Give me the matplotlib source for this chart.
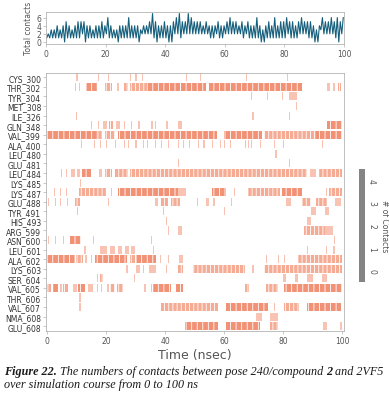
import numpy as np
import matplotlib
matplotlib.use('Agg')
import matplotlib.pyplot as plt
from matplotlib.colors import ListedColormap, Normalize
from matplotlib.cm import ScalarMappable

plt.rcParams.update({
    'font.family': 'DejaVu Sans',
    'font.size': 5.5,
    'axes.linewidth': 0.6,
    'hatch.linewidth': 0.6,
})

# total contacts per ns: envelope (low / high value in each ns)
contacts_high = [2, 3, 3, 4, 3, 4, 5, 4, 3, 4, 5, 5, 5, 4, 4, 3, 4, 4, 5, 4,
                 6, 4, 3, 3, 4, 4, 4, 6, 4, 4, 4, 3, 4, 4, 5, 7, 5, 4, 4, 5,
                 4, 4, 5, 6, 7, 5, 5, 7, 6, 5, 5, 5, 4, 5, 4, 4, 4, 5, 4, 4,
                 5, 6, 5, 5, 4, 5, 4, 5, 4, 4, 6, 4, 3, 4, 5, 4, 6, 4, 5, 5,
                 6, 5, 5, 4, 5, 6, 5, 5, 5, 4, 3, 4, 6, 5, 5, 6, 5, 6, 5, 6]
contacts_low = [1, 1, 1, 1, 1, 1, 0, 1, 1, 1, 1, 1, 2, 0, 1, 1, 1, 1, 1, 1,
                2, 1, 1, 1, 0, 1, 1, 1, 1, 1, 1, 0, 2, 2, 2, 2, 1, 0, 1, 1,
                1, 0, 0, 2, 2, 1, 2, 2, 2, 2, 2, 2, 2, 2, 2, 1, 1, 2, 1, 1,
                2, 2, 2, 2, 2, 2, 1, 2, 1, 1, 1, 1, 0, 0, 1, 1, 1, 1, 1, 1,
                1, 2, 1, 1, 1, 2, 2, 2, 1, 1, 0, 0, 3, 2, 2, 2, 2, 1, 0, 2]

residues = ['CYS_300', 'THR_302', 'TYR_304', 'MET_308', 'ILE_326', 'GLN_348',
            'VAL_399', 'ALA_400', 'LEU_480', 'GLU_481', 'LEU_484', 'LYS_485',
            'LYS_487', 'GLU_488', 'TYR_491', 'HIS_493', 'ARG_599', 'ASN_600',
            'LEU_601', 'ALA_602', 'LYS_603', 'SER_604', 'VAL_605', 'THR_606',
            'VAL_607', 'NMA_608', 'GLU_608']

# contact intervals per residue: (start ns, end ns, density 1..3)
cys_300 = [(10, 10.4, 1), (17.3, 17.7, 1), (20.8, 21.2, 1), (28.2, 28.6, 1),
           (30, 30.4, 1), (32.3, 32.7, 1), (47, 47.4, 1), (51.9, 52.3, 1),
           (67.4, 67.8, 1), (81.3, 81.7, 1)]
thr_302 = [(9.6, 10, 1), (10.9, 11.3, 1), (13.2, 16.8, 3), (19.6, 22, 2),
           (23.9, 24.3, 1), (26, 27.5, 2), (28, 34, 2), (34, 45, 3),
           (45.5, 54, 3), (55, 86.5, 3), (95, 96, 1), (97, 97.5, 1),
           (98.5, 99.6, 2)]
tyr_304 = [(69.2, 69.6, 1), (74.4, 74.8, 1), (79.5, 79.9, 1), (82, 84.8, 1)]
met_308 = [(84.4, 84.8, 1)]
ile_326 = [(9.8, 10.2, 1), (69.6, 70, 1), (82, 82.4, 1)]
gln_348 = [(14.8, 15.2, 1), (17.2, 17.6, 1), (19, 20.5, 1), (21, 22.5, 2),
           (23.5, 24.8, 1), (26, 26.4, 1), (28.5, 28.9, 1), (31, 31.4, 1),
           (35.4, 35.8, 1), (36.5, 36.9, 1), (40.5, 40.9, 1), (44.5, 45.6, 1),
           (95, 100, 3)]
val_399 = [(0, 17, 3), (17, 18.6, 2), (19.6, 23, 2), (24, 57.5, 3),
           (60, 73, 3), (73.5, 76, 2), (76, 91, 2), (91, 100, 3)]
ala_400 = [(t, t + 0.4, 1) for t in
           [11.5, 16, 18, 20, 23, 26, 27.5, 30, 32.5, 34, 36.5, 38.5, 41, 44.5,
            46, 48, 51, 53, 56, 58.5, 60, 62, 67, 68, 69, 72, 77, 80, 93]]
leu_480 = [(77.4, 77.8, 1)]
glu_481 = [(44.3, 44.7, 1), (81.9, 82.3, 1)]
leu_484 = [(4.8, 5.2, 1), (6.4, 6.8, 1), (8, 9.5, 1), (10.3, 11.2, 1),
           (12, 15, 3), (17.5, 18.5, 1), (19.6, 22, 2), (23, 27.5, 2),
           (28, 88, 2), (89, 91, 1), (92, 100, 2)]
lys_485 = [(11.1, 11.5, 1)]
lys_487 = [(2.5, 2.9, 1), (4.3, 4.7, 1), (6.4, 6.8, 1), (11, 20, 2),
           (21.8, 22.2, 1), (24, 44.5, 3), (44.5, 47, 1), (56, 60.5, 3),
           (63.4, 63.8, 1), (68, 79, 2), (79.5, 86.5, 3), (94.4, 94.8, 1),
           (95.5, 100, 2)]
glu_488 = [(0.3, 0.7, 1), (2.6, 3, 1), (4.4, 4.8, 1), (6.9, 7.3, 1),
           (9.6, 11.3, 2), (20.6, 21, 1), (36.5, 37.5, 1), (38.7, 41, 2),
           (42, 45, 2), (50.8, 51.2, 1), (54, 55, 1), (56.4, 56.8, 1),
           (62.4, 62.8, 1), (81, 82.7, 1), (86.5, 89.5, 2), (91, 95, 2),
           (97.5, 99.5, 1)]
tyr_491 = [(10.2, 10.6, 1), (39.4, 39.8, 1), (60, 60.4, 1), (89.5, 91, 1),
           (94, 95.5, 1)]
his_493 = [(40.4, 40.8, 1), (88, 89.5, 1)]
arg_599 = [(40.9, 41.3, 1), (44.5, 45.6, 1), (87, 94, 2), (94, 97, 1)]
asn_600 = [(0.3, 0.7, 1), (2.6, 3, 1), (5.4, 5.8, 1), (7.8, 11.7, 3),
           (15.6, 16, 1), (35.3, 35.7, 1), (97.2, 97.6, 1)]
leu_601 = [(12.7, 13.1, 1), (18, 20.3, 1), (21.3, 23, 1), (24.2, 25.6, 1),
           (26.4, 27.7, 1), (28.6, 29.7, 1), (36, 36.4, 1), (88, 88.4, 1),
           (94.5, 94.9, 1), (97, 97.4, 1)]
ala_602 = [(0, 9.5, 3), (10, 12.3, 2), (12.8, 13.5, 1), (15, 15.4, 1),
           (16.2, 27, 3), (28.1, 29.8, 2), (30.3, 37, 3), (38.2, 38.6, 1),
           (41, 41.4, 1), (44.9, 46.1, 1), (74.1, 74.5, 1), (78.1, 78.5, 1),
           (80.3, 80.7, 1), (85, 100, 2)]
lys_603 = [(26.9, 27.3, 1), (30.3, 31.4, 1), (32.4, 32.8, 1), (34.5, 37, 1),
           (40.2, 40.6, 1), (44.4, 46.1, 2), (49.4, 67, 2), (69.6, 70, 1),
           (73.6, 100, 2)]
ser_604 = [(16.8, 17.2, 1), (18, 19, 2), (29.6, 30, 1), (80, 81, 1),
           (84, 85, 1), (88, 90, 1), (93, 95, 1)]
val_605 = [(0, 1.5, 2), (2.2, 3.8, 3), (4.4, 5, 1), (5.5, 7.2, 2),
           (9, 10.3, 1), (10.6, 12.8, 3), (14, 15.7, 1), (16.9, 17.3, 1),
           (18.4, 18.8, 1), (20.5, 20.9, 1), (21.3, 23, 2), (23.6, 25.8, 2),
           (33, 33.4, 1), (35.2, 35.6, 1), (35.9, 42, 3), (43.8, 46.1, 3),
           (67, 68.6, 2), (74.2, 78.2, 2), (80.4, 100, 3)]
thr_606 = [(11, 11.4, 1)]
val_607 = [(11, 11.4, 1), (38.7, 58, 2), (60.7, 75, 3), (76.8, 77.2, 1),
           (80.4, 85.5, 2), (88.2, 99.5, 3)]
nma_608 = [(70.8, 73, 1), (75.5, 78.2, 1)]
glu_608 = [(46.6, 58, 3), (60.7, 72, 3), (75.5, 78.2, 2), (93.6, 94.7, 1),
           (99.4, 99.8, 1)]

rows = [cys_300, thr_302, tyr_304, met_308, ile_326, gln_348, val_399,
        ala_400, leu_480, glu_481, leu_484, lys_485, lys_487, glu_488,
        tyr_491, his_493, arg_599, asn_600, leu_601, ala_602, lys_603,
        ser_604, val_605, thr_606, val_607, nma_608, glu_608]

level_colors = {1: '#f8c3b2', 2: '#f5ab94', 3: '#f19276'}
level_hatch = {1: None, 2: '||||', 3: '|||'}
line_color = '#165f7c'
spine_color = '#b4b4b4'
text_gray = '#555555'

fig = plt.figure(figsize=(3.89, 4.02), dpi=100)
W, H = 389, 402


def box(x0, y0, x1, y1):
    return [x0 / W, 1 - y1 / H, (x1 - x0) / W, (y1 - y0) / H]


def style(ax):
    for s in ax.spines.values():
        s.set_color(spine_color)
    ax.tick_params(colors=spine_color, labelcolor=text_gray, length=2,
                   width=0.5, pad=1.5, labelsize=5.5)


# top panel: total contacts
ax0 = fig.add_axes(box(46, 12.5, 344, 45))
t = []
v = []
for i in range(len(contacts_high)):
    t += [i + 0.25, i + 0.75]
    v += [contacts_low[i], contacts_high[i]]
ax0.plot(t, v, color=line_color, lw=0.8)
ax0.set_xlim(0, 100)
ax0.set_ylim(-0.5, 7.5)
ax0.set_yticks([0, 2, 4, 6])
ax0.set_xticks([0, 20, 40, 60, 80, 100])
ax0.set_ylabel('Total contacts', color=text_gray, fontsize=5.5, labelpad=2)
style(ax0)

# main panel: contacts per residue
ax = fig.add_axes(box(46, 74, 344, 332))
for k, segs in enumerate(rows):
    for (s, e, lev) in segs:
        ax.broken_barh([(s, e - s)], (k - 0.42, 0.84),
                       facecolors=level_colors[lev], edgecolor='white',
                       linewidth=0, hatch=level_hatch[lev])
ax.set_xlim(-0.3, 100.6)
ax.set_ylim(len(residues) - 0.5, -0.45)
ax.set_yticks(range(len(residues)))
ax.set_yticklabels(residues, color='#333333')
ax.set_xticks([0, 20, 40, 60, 80, 100])
ax.set_xlabel('Time (nsec)', fontsize=9, color=text_gray, labelpad=2)
style(ax)
ax.tick_params(axis='y', labelcolor='#333333')

# colour bar
cax = fig.add_axes(box(359, 170, 365, 283))
sm = ScalarMappable(norm=Normalize(-0.5, 4.5), cmap=ListedColormap(['#848484']))
cb = fig.colorbar(sm, cax=cax)
cb.outline.set_visible(False)
cb.set_ticks([0, 1, 2, 3, 4])
cax.set_yticklabels(['0', '1', '2', '3', '4'], rotation=-90, va='center')
cax.tick_params(length=0, pad=1.5, labelsize=5.5, labelcolor=text_gray)
cb.set_label('# of Contacts', rotation=-90, fontsize=5.5, color=text_gray,
             labelpad=9)

# caption
serif = 'Liberation Serif'
renderer = fig.canvas.get_renderer()


def caption_line(pieces, x_px, y_px):
    x = x_px
    for txt, weight in pieces:
        tt = fig.text(x / W, 1 - y_px / H, txt, fontsize=8.7, family=serif,
                      style='italic', weight=weight, color='#1a1a1a',
                      va='baseline', ha='left')
        x += tt.get_window_extent(renderer).width


caption_line([('Figure 22.', 'bold'),
              (' The numbers of contacts between pose 240/compound ', 'normal'),
              ('2', 'bold'), (' and 2VF5', 'normal')], 4, 375)
caption_line([('over simulation course from 0 to 100 ns', 'normal')], 4, 388)

fig.savefig('out.png', dpi=100)
